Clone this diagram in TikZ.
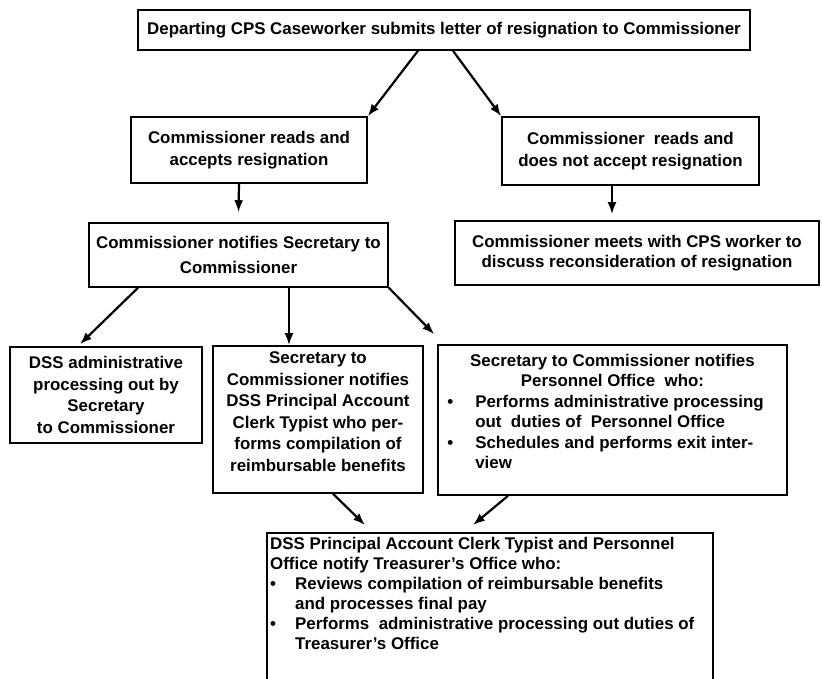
\documentclass[tikz,border=0pt]{standalone}
\usepackage{fontspec}
\setmainfont{Liberation Sans}
\usepackage{tikz}
\usetikzlibrary{arrows.meta}

\begin{document}
\begin{tikzpicture}[x=1pt,y=-1pt]
\tikzset{box/.style={draw,line width=1.6pt,inner sep=2pt,align=center,font=\fontsize{16.9}{21.5}\selectfont\bfseries},
arr/.style={line width=2.2pt,-{Latex[length=12pt,width=9pt]}}}
\useasboundingbox (0,0) rectangle (822,678);

\node[box,minimum width=612,minimum height=40] (resign) at (444,30) {Departing CPS Caseworker submits letter of resignation to Commissioner};
\node[box,minimum width=236,minimum height=66] (accept) at (249,150) {Commissioner reads and\\accepts resignation};
\node[box,minimum width=257,minimum height=68] (reject) at (630.5,151) {Commissioner\ \ reads and\\does not accept resignation};
\node[box,minimum width=299,minimum height=64] (notifies) at (238.5,255) {Commissioner notifies Secretary to\\[3.5pt]Commissioner};
\node[box,minimum width=364,minimum height=64] (meets) at (637,253) {Commissioner meets with CPS worker to\\[-2pt]discuss reconsideration of resignation};
\node[box,minimum width=192,minimum height=96] (dss) at (106,395) {DSS administrative\\processing out by\\Secretary\\to Commissioner};
\node[box,minimum width=210,minimum height=147] (sec) at (318,419.5) {\begin{tabular}{@{}c@{}}
Secretary to\\Commissioner notifies\\DSS Principal Account\\Clerk Typist who per-\\forms compilation of\\reimbursable benefits\\[13pt]
\end{tabular}};
\node[box,minimum width=349,minimum height=150] (pers) at (612.5,420) {\renewcommand{\arraystretch}{0.95}\begin{tabular}{@{}p{28pt}@{}l@{\hspace{14pt}}}
\multicolumn{2}{c}{Secretary to Commissioner notifies}\\
\multicolumn{2}{c}{Personnel Office\ \ who:}\\
\textbullet & Performs administrative processing\\
 & out\ \ duties of\ \ Personnel Office\\
\textbullet & Schedules and performs exit inter-\\
 & view\\[13pt]
\end{tabular}};

% Treasurer's box runs off the bottom of the page
\node[box,anchor=north west,minimum width=446,minimum height=200] (treas) at (266,532) {};
\node[anchor=north west,inner sep=0pt,align=left,font=\fontsize{16.9}{21.5}\selectfont\bfseries] (treas-text) at (270,535) {\renewcommand{\arraystretch}{0.93}\begin{tabular}{@{}p{25pt}@{}l@{}}
\multicolumn{2}{@{}l@{}}{DSS Principal Account Clerk Typist and Personnel}\\
\multicolumn{2}{@{}l@{}}{Office notify Treasurer's Office who:}\\
\textbullet & Reviews compilation of reimbursable benefits\\
 & and processes final pay\\
\textbullet & Performs\ \ administrative processing out duties of\\
 & Treasurer's Office
\end{tabular}};

\draw[arr] ([xshift=-26pt]resign.south) -- (accept.north east);
\draw[arr] ([xshift=9pt]resign.south) -- (reject.north west);
\draw[arr] ([xshift=-10pt]accept.south) -- ([yshift=10pt]notifies.north);
\draw[arr] ([xshift=-18.5pt]reject.south) -- ([xshift=-25pt,yshift=6pt]meets.north);
\draw[arr] ([xshift=-100.5pt]notifies.south) -- ([xshift=-26pt,yshift=2pt]dss.north);
\draw[arr] ([xshift=50.5pt]notifies.south) -- ([xshift=-29pt]sec.north);
\draw[arr] (notifies.south east) -- ([xshift=-3pt,yshift=10pt]pers.north west);
\draw[arr] ([xshift=15pt]sec.south) -- ([xshift=99pt,yshift=7pt]treas.north west);
\draw[arr] ([xshift=-104.5pt]pers.south) -- ([xshift=207pt,yshift=7pt]treas.north west);

\end{tikzpicture}
\end{document}
